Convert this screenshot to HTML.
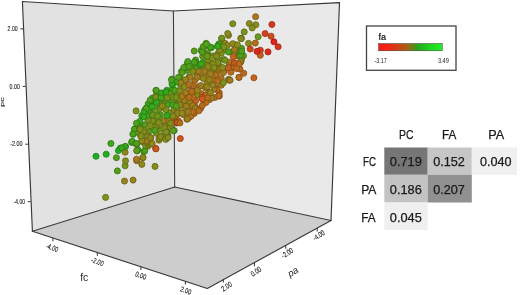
<!DOCTYPE html>
<html><head><meta charset="utf-8">
<style>
html,body{margin:0;padding:0;background:#fff;width:520px;height:295px;overflow:hidden}
svg{display:block;filter:blur(0.3px)}
text{font-family:"Liberation Sans",sans-serif}
</style></head><body>
<svg width="520" height="295" viewBox="0 0 520 295">
<defs>
<linearGradient id="lg" x1="0" x2="1" y1="0" y2="0">
<stop offset="0" stop-color="#f81a14"/>
<stop offset="0.14" stop-color="#f42214"/>
<stop offset="0.3" stop-color="#d04014"/>
<stop offset="0.45" stop-color="#a06414"/>
<stop offset="0.56" stop-color="#5a8a14"/>
<stop offset="0.62" stop-color="#22a820"/>
<stop offset="0.8" stop-color="#1cd41c"/>
<stop offset="1" stop-color="#22f022"/>
</linearGradient>
<filter id="bl" x="-5%" y="-5%" width="110%" height="110%"><feGaussianBlur stdDeviation="0.35"/></filter>
</defs>
<!-- walls -->
<polygon points="22.4,1.5 173.4,11 174.7,187 32.4,231.3" fill="#e2e2e2"/>
<polygon points="173.4,11 339.5,2.6 331,220.5 174.7,187" fill="#e9e9e9"/>
<polygon points="32.4,231.3 174.7,187 331,220.5 207.3,288.5" fill="#cdcdcd"/>
<g stroke="#3a3a3a" stroke-width="1.05" fill="none" stroke-linecap="round">
<line x1="173.4" y1="11" x2="174.7" y2="187"/>
<line x1="32.4" y1="231.3" x2="174.7" y2="187"/>
<line x1="174.7" y1="187" x2="331" y2="220.5"/>
</g>
<!-- points -->
<g filter="url(#bl)">
<circle cx="196.6" cy="73.4" r="3.05" fill="rgb(155, 128, 28)" stroke="rgb(108, 89, 19)" stroke-width="0.75"/>
<circle cx="201.4" cy="76.7" r="3.05" fill="rgb(154, 129, 28)" stroke="rgb(107, 90, 19)" stroke-width="0.75"/>
<circle cx="233.7" cy="65.4" r="3.05" fill="rgb(192, 101, 29)" stroke="rgb(134, 70, 20)" stroke-width="0.75"/>
<circle cx="170.5" cy="120.7" r="3.05" fill="rgb(141, 136, 28)" stroke="rgb(98, 95, 19)" stroke-width="0.75"/>
<circle cx="155.8" cy="96.1" r="3.05" fill="rgb(117, 148, 28)" stroke="rgb(81, 103, 19)" stroke-width="0.75"/>
<circle cx="213.2" cy="79.9" r="3.05" fill="rgb(164, 122, 28)" stroke="rgb(114, 85, 19)" stroke-width="0.75"/>
<circle cx="171.1" cy="96.5" r="3.05" fill="rgb(105, 153, 28)" stroke="rgb(73, 107, 19)" stroke-width="0.75"/>
<circle cx="163.1" cy="95.3" r="3.05" fill="rgb(52, 169, 28)" stroke="rgb(36, 118, 19)" stroke-width="0.75"/>
<circle cx="218.9" cy="65.2" r="3.05" fill="rgb(123, 146, 28)" stroke="rgb(86, 102, 19)" stroke-width="0.75"/>
<circle cx="183.1" cy="114.5" r="3.05" fill="rgb(159, 125, 28)" stroke="rgb(111, 87, 19)" stroke-width="0.75"/>
<circle cx="215.0" cy="97.4" r="3.05" fill="rgb(183, 109, 28)" stroke="rgb(128, 76, 19)" stroke-width="0.75"/>
<circle cx="189.5" cy="104.7" r="3.05" fill="rgb(174, 116, 28)" stroke="rgb(121, 81, 19)" stroke-width="0.75"/>
<circle cx="179.4" cy="105.2" r="3.05" fill="rgb(145, 134, 28)" stroke="rgb(101, 93, 19)" stroke-width="0.75"/>
<circle cx="141.8" cy="115.7" r="3.05" fill="rgb(52, 169, 28)" stroke="rgb(36, 118, 19)" stroke-width="0.75"/>
<circle cx="202.7" cy="62.6" r="3.05" fill="rgb(56, 168, 28)" stroke="rgb(39, 117, 19)" stroke-width="0.75"/>
<circle cx="177.5" cy="94.5" r="3.05" fill="rgb(116, 148, 28)" stroke="rgb(81, 103, 19)" stroke-width="0.75"/>
<circle cx="194.3" cy="99.8" r="3.05" fill="rgb(190, 103, 29)" stroke="rgb(133, 72, 20)" stroke-width="0.75"/>
<circle cx="180.1" cy="76.9" r="3.05" fill="rgb(64, 165, 28)" stroke="rgb(44, 115, 19)" stroke-width="0.75"/>
<circle cx="137.9" cy="126.8" r="3.05" fill="rgb(73, 163, 28)" stroke="rgb(51, 114, 19)" stroke-width="0.75"/>
<circle cx="188.6" cy="85.8" r="3.05" fill="rgb(175, 115, 28)" stroke="rgb(122, 80, 19)" stroke-width="0.75"/>
<circle cx="230.3" cy="52.0" r="3.05" fill="rgb(98, 155, 28)" stroke="rgb(68, 108, 19)" stroke-width="0.75"/>
<circle cx="154.2" cy="116.1" r="3.05" fill="rgb(110, 150, 28)" stroke="rgb(77, 105, 19)" stroke-width="0.75"/>
<circle cx="164.8" cy="107.7" r="3.05" fill="rgb(101, 154, 28)" stroke="rgb(70, 107, 19)" stroke-width="0.75"/>
<circle cx="221.3" cy="85.2" r="3.05" fill="rgb(159, 125, 28)" stroke="rgb(111, 87, 19)" stroke-width="0.75"/>
<circle cx="218.4" cy="52.9" r="3.05" fill="rgb(122, 146, 28)" stroke="rgb(85, 102, 19)" stroke-width="0.75"/>
<circle cx="151.8" cy="121.8" r="3.05" fill="rgb(120, 147, 28)" stroke="rgb(84, 102, 19)" stroke-width="0.75"/>
<circle cx="150.1" cy="130.6" r="3.05" fill="rgb(97, 156, 28)" stroke="rgb(67, 109, 19)" stroke-width="0.75"/>
<circle cx="192.7" cy="90.8" r="3.05" fill="rgb(180, 111, 28)" stroke="rgb(125, 77, 19)" stroke-width="0.75"/>
<circle cx="172.5" cy="89.4" r="3.05" fill="rgb(62, 166, 28)" stroke="rgb(43, 116, 19)" stroke-width="0.75"/>
<circle cx="205.4" cy="88.1" r="3.05" fill="rgb(160, 125, 28)" stroke="rgb(112, 87, 19)" stroke-width="0.75"/>
<circle cx="152.8" cy="110.2" r="3.05" fill="rgb(80, 161, 28)" stroke="rgb(56, 112, 19)" stroke-width="0.75"/>
<circle cx="180.8" cy="86.2" r="3.05" fill="rgb(118, 148, 28)" stroke="rgb(82, 103, 19)" stroke-width="0.75"/>
<circle cx="229.2" cy="62.2" r="3.05" fill="rgb(173, 116, 28)" stroke="rgb(121, 81, 19)" stroke-width="0.75"/>
<circle cx="200.6" cy="108.5" r="3.05" fill="rgb(183, 109, 28)" stroke="rgb(128, 76, 19)" stroke-width="0.75"/>
<circle cx="143.3" cy="133.5" r="3.05" fill="rgb(119, 147, 28)" stroke="rgb(83, 102, 19)" stroke-width="0.75"/>
<circle cx="144.6" cy="124.9" r="3.05" fill="rgb(86, 159, 28)" stroke="rgb(60, 111, 19)" stroke-width="0.75"/>
<circle cx="187.2" cy="70.6" r="3.05" fill="rgb(71, 164, 28)" stroke="rgb(49, 114, 19)" stroke-width="0.75"/>
<circle cx="195.6" cy="60.0" r="3.05" fill="rgb(69, 164, 28)" stroke="rgb(48, 114, 19)" stroke-width="0.75"/>
<circle cx="219.3" cy="92.9" r="3.05" fill="rgb(183, 109, 28)" stroke="rgb(128, 76, 19)" stroke-width="0.75"/>
<circle cx="181.5" cy="71.5" r="3.05" fill="rgb(63, 166, 28)" stroke="rgb(44, 116, 19)" stroke-width="0.75"/>
<circle cx="212.7" cy="65.5" r="3.05" fill="rgb(141, 137, 28)" stroke="rgb(98, 95, 19)" stroke-width="0.75"/>
<circle cx="237.8" cy="55.9" r="3.05" fill="rgb(127, 144, 28)" stroke="rgb(88, 100, 19)" stroke-width="0.75"/>
<circle cx="161.6" cy="129.3" r="3.05" fill="rgb(115, 149, 28)" stroke="rgb(80, 104, 19)" stroke-width="0.75"/>
<circle cx="241.6" cy="48.4" r="3.05" fill="rgb(89, 158, 28)" stroke="rgb(62, 110, 19)" stroke-width="0.75"/>
<circle cx="169.2" cy="112.6" r="3.05" fill="rgb(105, 153, 28)" stroke="rgb(73, 107, 19)" stroke-width="0.75"/>
<circle cx="221.2" cy="78.3" r="3.05" fill="rgb(173, 116, 28)" stroke="rgb(121, 81, 19)" stroke-width="0.75"/>
<circle cx="195.1" cy="106.6" r="3.05" fill="rgb(171, 118, 28)" stroke="rgb(119, 82, 19)" stroke-width="0.75"/>
<circle cx="187.6" cy="92.9" r="3.05" fill="rgb(169, 119, 28)" stroke="rgb(118, 83, 19)" stroke-width="0.75"/>
<circle cx="213.5" cy="55.8" r="3.05" fill="rgb(122, 146, 28)" stroke="rgb(85, 102, 19)" stroke-width="0.75"/>
<circle cx="160.5" cy="114.8" r="3.05" fill="rgb(85, 159, 28)" stroke="rgb(59, 111, 19)" stroke-width="0.75"/>
<circle cx="156.3" cy="133.3" r="3.05" fill="rgb(115, 149, 28)" stroke="rgb(80, 104, 19)" stroke-width="0.75"/>
<circle cx="176.0" cy="121.3" r="3.05" fill="rgb(201, 93, 30)" stroke="rgb(140, 65, 21)" stroke-width="0.75"/>
<circle cx="240.8" cy="62.0" r="3.05" fill="rgb(137, 139, 28)" stroke="rgb(95, 97, 19)" stroke-width="0.75"/>
<circle cx="204.8" cy="69.4" r="3.05" fill="rgb(144, 135, 28)" stroke="rgb(100, 94, 19)" stroke-width="0.75"/>
<circle cx="225.0" cy="43.3" r="3.05" fill="rgb(148, 133, 28)" stroke="rgb(103, 93, 19)" stroke-width="0.75"/>
<circle cx="211.4" cy="47.7" r="3.05" fill="rgb(78, 161, 28)" stroke="rgb(54, 112, 19)" stroke-width="0.75"/>
<circle cx="203.6" cy="100.1" r="3.05" fill="rgb(202, 89, 30)" stroke="rgb(141, 62, 21)" stroke-width="0.75"/>
<circle cx="193.2" cy="68.5" r="3.05" fill="rgb(76, 162, 28)" stroke="rgb(53, 113, 19)" stroke-width="0.75"/>
<circle cx="207.4" cy="76.4" r="3.05" fill="rgb(153, 129, 28)" stroke="rgb(107, 90, 19)" stroke-width="0.75"/>
<circle cx="176.4" cy="115.3" r="3.05" fill="rgb(172, 117, 28)" stroke="rgb(120, 81, 19)" stroke-width="0.75"/>
<circle cx="202.7" cy="56.4" r="3.05" fill="rgb(91, 158, 28)" stroke="rgb(63, 110, 19)" stroke-width="0.75"/>
<circle cx="159.4" cy="100.4" r="3.05" fill="rgb(100, 155, 28)" stroke="rgb(70, 108, 19)" stroke-width="0.75"/>
<circle cx="174.9" cy="109.0" r="3.05" fill="rgb(128, 144, 28)" stroke="rgb(89, 100, 19)" stroke-width="0.75"/>
<circle cx="234.2" cy="44.5" r="3.05" fill="rgb(132, 142, 28)" stroke="rgb(92, 99, 19)" stroke-width="0.75"/>
<circle cx="215.4" cy="87.3" r="3.05" fill="rgb(163, 123, 28)" stroke="rgb(114, 86, 19)" stroke-width="0.75"/>
<circle cx="159.2" cy="106.9" r="3.05" fill="rgb(101, 154, 28)" stroke="rgb(70, 107, 19)" stroke-width="0.75"/>
<circle cx="230.9" cy="72.2" r="3.05" fill="rgb(183, 109, 28)" stroke="rgb(128, 76, 19)" stroke-width="0.75"/>
<circle cx="184.3" cy="101.9" r="3.05" fill="rgb(160, 125, 28)" stroke="rgb(112, 87, 19)" stroke-width="0.75"/>
<circle cx="218.9" cy="43.9" r="3.05" fill="rgb(69, 164, 28)" stroke="rgb(48, 114, 19)" stroke-width="0.75"/>
<circle cx="223.8" cy="59.5" r="3.05" fill="rgb(107, 152, 28)" stroke="rgb(74, 106, 19)" stroke-width="0.75"/>
<circle cx="163.8" cy="120.8" r="3.05" fill="rgb(154, 129, 28)" stroke="rgb(107, 90, 19)" stroke-width="0.75"/>
<circle cx="224.3" cy="70.5" r="3.05" fill="rgb(164, 122, 28)" stroke="rgb(114, 85, 19)" stroke-width="0.75"/>
<circle cx="194.8" cy="80.5" r="3.05" fill="rgb(175, 114, 28)" stroke="rgb(122, 79, 19)" stroke-width="0.75"/>
<circle cx="170.1" cy="103.0" r="3.05" fill="rgb(79, 161, 28)" stroke="rgb(55, 112, 19)" stroke-width="0.75"/>
<circle cx="199.0" cy="86.6" r="3.05" fill="rgb(174, 116, 28)" stroke="rgb(121, 81, 19)" stroke-width="0.75"/>
<circle cx="217.3" cy="72.2" r="3.05" fill="rgb(155, 128, 28)" stroke="rgb(108, 89, 19)" stroke-width="0.75"/>
<circle cx="211.3" cy="71.9" r="3.05" fill="rgb(144, 135, 28)" stroke="rgb(100, 94, 19)" stroke-width="0.75"/>
<circle cx="207.2" cy="82.5" r="3.05" fill="rgb(142, 136, 28)" stroke="rgb(99, 95, 19)" stroke-width="0.75"/>
<circle cx="144.7" cy="110.3" r="3.05" fill="rgb(52, 169, 28)" stroke="rgb(36, 118, 19)" stroke-width="0.75"/>
<circle cx="224.1" cy="49.4" r="3.05" fill="rgb(133, 142, 28)" stroke="rgb(93, 99, 19)" stroke-width="0.75"/>
<circle cx="228.6" cy="79.4" r="3.05" fill="rgb(137, 139, 28)" stroke="rgb(95, 97, 19)" stroke-width="0.75"/>
<circle cx="187.1" cy="64.2" r="3.05" fill="rgb(52, 169, 28)" stroke="rgb(36, 118, 19)" stroke-width="0.75"/>
<circle cx="209.3" cy="92.6" r="3.05" fill="rgb(161, 124, 28)" stroke="rgb(112, 86, 19)" stroke-width="0.75"/>
<circle cx="189.4" cy="110.8" r="3.05" fill="rgb(167, 120, 28)" stroke="rgb(116, 84, 19)" stroke-width="0.75"/>
<circle cx="183.1" cy="96.3" r="3.05" fill="rgb(143, 135, 28)" stroke="rgb(100, 94, 19)" stroke-width="0.75"/>
<circle cx="239.9" cy="69.1" r="3.05" fill="rgb(193, 101, 29)" stroke="rgb(135, 70, 20)" stroke-width="0.75"/>
<circle cx="139.8" cy="121.4" r="3.05" fill="rgb(54, 169, 28)" stroke="rgb(37, 118, 19)" stroke-width="0.75"/>
<circle cx="243.5" cy="55.7" r="3.05" fill="rgb(116, 148, 28)" stroke="rgb(81, 103, 19)" stroke-width="0.75"/>
<circle cx="156.4" cy="126.5" r="3.05" fill="rgb(131, 142, 28)" stroke="rgb(91, 99, 19)" stroke-width="0.75"/>
<circle cx="153.8" cy="101.4" r="3.05" fill="rgb(52, 169, 28)" stroke="rgb(36, 118, 19)" stroke-width="0.75"/>
<circle cx="189.1" cy="77.0" r="3.05" fill="rgb(122, 146, 28)" stroke="rgb(85, 102, 19)" stroke-width="0.75"/>
<circle cx="147.2" cy="117.6" r="3.05" fill="rgb(92, 157, 28)" stroke="rgb(64, 109, 19)" stroke-width="0.75"/>
<circle cx="207.9" cy="60.3" r="3.05" fill="rgb(119, 147, 28)" stroke="rgb(83, 102, 19)" stroke-width="0.75"/>
<circle cx="206.2" cy="46.0" r="3.05" fill="rgb(75, 162, 28)" stroke="rgb(52, 113, 19)" stroke-width="0.75"/>
<circle cx="201.1" cy="93.8" r="3.05" fill="rgb(183, 109, 28)" stroke="rgb(128, 76, 19)" stroke-width="0.75"/>
<circle cx="148.2" cy="103.9" r="3.05" fill="rgb(52, 169, 28)" stroke="rgb(36, 118, 19)" stroke-width="0.75"/>
<circle cx="176.9" cy="82.1" r="3.05" fill="rgb(57, 168, 28)" stroke="rgb(39, 117, 19)" stroke-width="0.75"/>
<circle cx="207.6" cy="53.2" r="3.05" fill="rgb(94, 157, 28)" stroke="rgb(65, 109, 19)" stroke-width="0.75"/>
<circle cx="201.1" cy="50.4" r="3.05" fill="rgb(93, 157, 28)" stroke="rgb(65, 109, 19)" stroke-width="0.75"/>
<circle cx="166.9" cy="90.2" r="3.05" fill="rgb(52, 169, 28)" stroke="rgb(36, 118, 19)" stroke-width="0.75"/>
<circle cx="184.2" cy="81.5" r="3.05" fill="rgb(123, 145, 28)" stroke="rgb(86, 101, 19)" stroke-width="0.75"/>
<circle cx="188.7" cy="117.7" r="3.05" fill="rgb(161, 124, 28)" stroke="rgb(112, 86, 19)" stroke-width="0.75"/>
<circle cx="164.8" cy="101.5" r="3.05" fill="rgb(96, 156, 28)" stroke="rgb(67, 109, 19)" stroke-width="0.75"/>
<circle cx="166.6" cy="126.9" r="3.05" fill="rgb(135, 141, 28)" stroke="rgb(94, 98, 19)" stroke-width="0.75"/>
<circle cx="198.7" cy="67.0" r="3.05" fill="rgb(65, 165, 28)" stroke="rgb(45, 115, 19)" stroke-width="0.75"/>
<circle cx="209.4" cy="99.7" r="3.05" fill="rgb(177, 113, 28)" stroke="rgb(123, 79, 19)" stroke-width="0.75"/>
<circle cx="137.6" cy="132.4" r="3.05" fill="rgb(109, 151, 28)" stroke="rgb(76, 105, 19)" stroke-width="0.75"/>
<circle cx="177.2" cy="100.1" r="3.05" fill="rgb(122, 146, 28)" stroke="rgb(85, 102, 19)" stroke-width="0.75"/>
<circle cx="184.5" cy="107.9" r="3.05" fill="rgb(146, 133, 28)" stroke="rgb(102, 93, 19)" stroke-width="0.75"/>
<circle cx="157.6" cy="120.5" r="3.05" fill="rgb(114, 149, 28)" stroke="rgb(79, 104, 19)" stroke-width="0.75"/>
<circle cx="235.8" cy="50.4" r="3.05" fill="rgb(138, 138, 28)" stroke="rgb(96, 96, 19)" stroke-width="0.75"/>
<circle cx="194.3" cy="113.4" r="3.05" fill="rgb(183, 109, 28)" stroke="rgb(128, 76, 19)" stroke-width="0.75"/>
<circle cx="218.1" cy="59.3" r="3.05" fill="rgb(119, 147, 28)" stroke="rgb(83, 102, 19)" stroke-width="0.75"/>
<circle cx="148.3" cy="136.1" r="3.05" fill="rgb(137, 139, 28)" stroke="rgb(95, 97, 19)" stroke-width="0.75"/>
<circle cx="188.8" cy="98.7" r="3.05" fill="rgb(177, 113, 28)" stroke="rgb(123, 79, 19)" stroke-width="0.75"/>
<circle cx="140.3" cy="127.5" r="3.05" fill="rgb(56, 168, 28)" stroke="rgb(39, 117, 19)" stroke-width="0.75"/>
<circle cx="142.0" cy="141.1" r="3.05" fill="rgb(127, 144, 28)" stroke="rgb(88, 100, 19)" stroke-width="0.75"/>
<circle cx="221.4" cy="53.2" r="3.05" fill="rgb(130, 143, 28)" stroke="rgb(91, 100, 19)" stroke-width="0.75"/>
<circle cx="210.4" cy="47.2" r="3.05" fill="rgb(79, 161, 28)" stroke="rgb(55, 112, 19)" stroke-width="0.75"/>
<circle cx="177.8" cy="99.0" r="3.05" fill="rgb(129, 143, 28)" stroke="rgb(90, 100, 19)" stroke-width="0.75"/>
<circle cx="132.4" cy="142.0" r="3.05" fill="rgb(52, 169, 28)" stroke="rgb(36, 118, 19)" stroke-width="0.75"/>
<circle cx="228.5" cy="66.9" r="3.05" fill="rgb(149, 132, 28)" stroke="rgb(104, 92, 19)" stroke-width="0.75"/>
<circle cx="162.0" cy="137.1" r="3.05" fill="rgb(137, 139, 28)" stroke="rgb(95, 97, 19)" stroke-width="0.75"/>
<circle cx="174.9" cy="90.3" r="3.05" fill="rgb(80, 161, 28)" stroke="rgb(56, 112, 19)" stroke-width="0.75"/>
<circle cx="147.8" cy="146.2" r="3.05" fill="rgb(129, 143, 28)" stroke="rgb(90, 100, 19)" stroke-width="0.75"/>
<circle cx="278.1" cy="46.8" r="3.05" fill="rgb(216, 50, 30)" stroke="rgb(151, 35, 21)" stroke-width="0.75"/>
<circle cx="234.2" cy="67.2" r="3.05" fill="rgb(190, 103, 29)" stroke="rgb(133, 72, 20)" stroke-width="0.75"/>
<circle cx="194.8" cy="62.0" r="3.05" fill="rgb(70, 164, 28)" stroke="rgb(49, 114, 19)" stroke-width="0.75"/>
<circle cx="125.1" cy="165.8" r="3.05" fill="rgb(114, 149, 28)" stroke="rgb(79, 104, 19)" stroke-width="0.75"/>
<circle cx="244.2" cy="31.9" r="3.05" fill="rgb(124, 145, 28)" stroke="rgb(86, 101, 19)" stroke-width="0.75"/>
<circle cx="143.8" cy="151.6" r="3.05" fill="rgb(54, 169, 28)" stroke="rgb(37, 118, 19)" stroke-width="0.75"/>
<circle cx="228.5" cy="35.4" r="3.05" fill="rgb(145, 134, 28)" stroke="rgb(101, 93, 19)" stroke-width="0.75"/>
<circle cx="131.6" cy="142.4" r="3.05" fill="rgb(70, 164, 28)" stroke="rgb(49, 114, 19)" stroke-width="0.75"/>
<circle cx="239.0" cy="77.4" r="3.05" fill="rgb(183, 109, 28)" stroke="rgb(128, 76, 19)" stroke-width="0.75"/>
<circle cx="184.5" cy="100.2" r="3.05" fill="rgb(151, 131, 28)" stroke="rgb(105, 91, 19)" stroke-width="0.75"/>
<circle cx="148.1" cy="110.8" r="3.05" fill="rgb(52, 169, 28)" stroke="rgb(36, 118, 19)" stroke-width="0.75"/>
<circle cx="152.8" cy="120.9" r="3.05" fill="rgb(125, 145, 28)" stroke="rgb(87, 101, 19)" stroke-width="0.75"/>
<circle cx="186.3" cy="106.1" r="3.05" fill="rgb(157, 126, 28)" stroke="rgb(109, 88, 19)" stroke-width="0.75"/>
<circle cx="159.0" cy="140.2" r="3.05" fill="rgb(139, 138, 28)" stroke="rgb(97, 96, 19)" stroke-width="0.75"/>
<circle cx="161.5" cy="136.1" r="3.05" fill="rgb(146, 134, 28)" stroke="rgb(102, 93, 19)" stroke-width="0.75"/>
<circle cx="234.4" cy="49.7" r="3.05" fill="rgb(164, 122, 28)" stroke="rgb(114, 85, 19)" stroke-width="0.75"/>
<circle cx="152.4" cy="98.1" r="3.05" fill="rgb(52, 169, 28)" stroke="rgb(36, 118, 19)" stroke-width="0.75"/>
<circle cx="172.5" cy="84.9" r="3.05" fill="rgb(53, 169, 28)" stroke="rgb(37, 118, 19)" stroke-width="0.75"/>
<circle cx="134.8" cy="129.0" r="3.05" fill="rgb(72, 163, 28)" stroke="rgb(50, 114, 19)" stroke-width="0.75"/>
<circle cx="199.0" cy="64.5" r="3.05" fill="rgb(92, 157, 28)" stroke="rgb(64, 109, 19)" stroke-width="0.75"/>
<circle cx="189.8" cy="101.3" r="3.05" fill="rgb(154, 129, 28)" stroke="rgb(107, 90, 19)" stroke-width="0.75"/>
<circle cx="148.1" cy="120.3" r="3.05" fill="rgb(117, 148, 28)" stroke="rgb(81, 103, 19)" stroke-width="0.75"/>
<circle cx="106.2" cy="154.2" r="3.05" fill="rgb(32, 177, 29)" stroke="rgb(22, 123, 20)" stroke-width="0.75"/>
<circle cx="151.0" cy="100.7" r="3.05" fill="rgb(52, 169, 28)" stroke="rgb(36, 118, 19)" stroke-width="0.75"/>
<circle cx="136.9" cy="144.1" r="3.05" fill="rgb(136, 140, 28)" stroke="rgb(95, 98, 19)" stroke-width="0.75"/>
<circle cx="187.8" cy="61.5" r="3.05" fill="rgb(74, 163, 28)" stroke="rgb(51, 114, 19)" stroke-width="0.75"/>
<circle cx="125.1" cy="152.2" r="3.05" fill="rgb(143, 135, 28)" stroke="rgb(100, 94, 19)" stroke-width="0.75"/>
<circle cx="217.6" cy="80.8" r="3.05" fill="rgb(186, 106, 29)" stroke="rgb(130, 74, 20)" stroke-width="0.75"/>
<circle cx="117.4" cy="170.9" r="3.05" fill="rgb(78, 161, 28)" stroke="rgb(54, 112, 19)" stroke-width="0.75"/>
<circle cx="155.6" cy="148.4" r="3.05" fill="rgb(194, 100, 29)" stroke="rgb(135, 70, 20)" stroke-width="0.75"/>
<circle cx="166.4" cy="92.0" r="3.05" fill="rgb(52, 169, 28)" stroke="rgb(36, 118, 19)" stroke-width="0.75"/>
<circle cx="116.4" cy="157.7" r="3.05" fill="rgb(83, 160, 28)" stroke="rgb(58, 112, 19)" stroke-width="0.75"/>
<circle cx="170.2" cy="93.9" r="3.05" fill="rgb(96, 156, 28)" stroke="rgb(67, 109, 19)" stroke-width="0.75"/>
<circle cx="167.7" cy="104.9" r="3.05" fill="rgb(69, 164, 28)" stroke="rgb(48, 114, 19)" stroke-width="0.75"/>
<circle cx="132.2" cy="141.4" r="3.05" fill="rgb(63, 166, 28)" stroke="rgb(44, 116, 19)" stroke-width="0.75"/>
<circle cx="205.9" cy="102.5" r="3.05" fill="rgb(183, 109, 28)" stroke="rgb(128, 76, 19)" stroke-width="0.75"/>
<circle cx="159.9" cy="108.5" r="3.05" fill="rgb(107, 152, 28)" stroke="rgb(74, 106, 19)" stroke-width="0.75"/>
<circle cx="203.6" cy="46.7" r="3.05" fill="rgb(62, 166, 28)" stroke="rgb(43, 116, 19)" stroke-width="0.75"/>
<circle cx="168.3" cy="120.3" r="3.05" fill="rgb(166, 121, 28)" stroke="rgb(116, 84, 19)" stroke-width="0.75"/>
<circle cx="150.8" cy="137.9" r="3.05" fill="rgb(150, 131, 28)" stroke="rgb(105, 91, 19)" stroke-width="0.75"/>
<circle cx="144.8" cy="150.9" r="3.05" fill="rgb(69, 164, 28)" stroke="rgb(48, 114, 19)" stroke-width="0.75"/>
<circle cx="217.0" cy="89.7" r="3.05" fill="rgb(183, 109, 28)" stroke="rgb(128, 76, 19)" stroke-width="0.75"/>
<circle cx="198.6" cy="71.3" r="3.05" fill="rgb(165, 122, 28)" stroke="rgb(115, 85, 19)" stroke-width="0.75"/>
<circle cx="146.1" cy="108.2" r="3.05" fill="rgb(52, 169, 28)" stroke="rgb(36, 118, 19)" stroke-width="0.75"/>
<circle cx="133.0" cy="134.3" r="3.05" fill="rgb(76, 162, 28)" stroke="rgb(53, 113, 19)" stroke-width="0.75"/>
<circle cx="179.8" cy="104.9" r="3.05" fill="rgb(149, 132, 28)" stroke="rgb(104, 92, 19)" stroke-width="0.75"/>
<circle cx="241.6" cy="59.2" r="3.05" fill="rgb(136, 140, 28)" stroke="rgb(95, 98, 19)" stroke-width="0.75"/>
<circle cx="196.2" cy="66.6" r="3.05" fill="rgb(92, 157, 28)" stroke="rgb(64, 109, 19)" stroke-width="0.75"/>
<circle cx="172.0" cy="79.1" r="3.05" fill="rgb(85, 159, 28)" stroke="rgb(59, 111, 19)" stroke-width="0.75"/>
<circle cx="239.2" cy="56.2" r="3.05" fill="rgb(146, 134, 28)" stroke="rgb(102, 93, 19)" stroke-width="0.75"/>
<circle cx="150.2" cy="100.1" r="3.05" fill="rgb(78, 161, 28)" stroke="rgb(54, 112, 19)" stroke-width="0.75"/>
<circle cx="140.7" cy="136.1" r="3.05" fill="rgb(135, 141, 28)" stroke="rgb(94, 98, 19)" stroke-width="0.75"/>
<circle cx="248.5" cy="43.4" r="3.05" fill="rgb(139, 138, 28)" stroke="rgb(97, 96, 19)" stroke-width="0.75"/>
<circle cx="258.1" cy="36.8" r="3.05" fill="rgb(104, 153, 28)" stroke="rgb(72, 107, 19)" stroke-width="0.75"/>
<circle cx="202.3" cy="105.5" r="3.05" fill="rgb(186, 106, 29)" stroke="rgb(130, 74, 20)" stroke-width="0.75"/>
<circle cx="173.0" cy="97.2" r="3.05" fill="rgb(115, 149, 28)" stroke="rgb(80, 104, 19)" stroke-width="0.75"/>
<circle cx="192.8" cy="105.5" r="3.05" fill="rgb(157, 127, 28)" stroke="rgb(109, 88, 19)" stroke-width="0.75"/>
<circle cx="142.8" cy="157.7" r="3.05" fill="rgb(120, 147, 28)" stroke="rgb(84, 102, 19)" stroke-width="0.75"/>
<circle cx="120.4" cy="148.1" r="3.05" fill="rgb(30, 178, 30)" stroke="rgb(21, 124, 21)" stroke-width="0.75"/>
<circle cx="197.4" cy="77.3" r="3.05" fill="rgb(160, 125, 28)" stroke="rgb(112, 87, 19)" stroke-width="0.75"/>
<circle cx="125.5" cy="146.5" r="3.05" fill="rgb(64, 166, 28)" stroke="rgb(44, 116, 19)" stroke-width="0.75"/>
<circle cx="221.7" cy="38.7" r="3.05" fill="rgb(114, 149, 28)" stroke="rgb(79, 104, 19)" stroke-width="0.75"/>
<circle cx="145.4" cy="145.3" r="3.05" fill="rgb(114, 149, 28)" stroke="rgb(79, 104, 19)" stroke-width="0.75"/>
<circle cx="178.3" cy="120.9" r="3.05" fill="rgb(183, 109, 28)" stroke="rgb(128, 76, 19)" stroke-width="0.75"/>
<circle cx="161.9" cy="93.3" r="3.05" fill="rgb(52, 169, 28)" stroke="rgb(36, 118, 19)" stroke-width="0.75"/>
<circle cx="178.6" cy="99.0" r="3.05" fill="rgb(135, 140, 28)" stroke="rgb(94, 98, 19)" stroke-width="0.75"/>
<circle cx="159.1" cy="138.5" r="3.05" fill="rgb(136, 140, 28)" stroke="rgb(95, 98, 19)" stroke-width="0.75"/>
<circle cx="141.8" cy="141.4" r="3.05" fill="rgb(118, 148, 28)" stroke="rgb(82, 103, 19)" stroke-width="0.75"/>
<circle cx="211.9" cy="58.0" r="3.05" fill="rgb(133, 142, 28)" stroke="rgb(93, 99, 19)" stroke-width="0.75"/>
<circle cx="174.2" cy="109.7" r="3.05" fill="rgb(140, 137, 28)" stroke="rgb(98, 95, 19)" stroke-width="0.75"/>
<circle cx="195.8" cy="100.7" r="3.05" fill="rgb(194, 100, 29)" stroke="rgb(135, 70, 20)" stroke-width="0.75"/>
<circle cx="185.6" cy="79.7" r="3.05" fill="rgb(154, 129, 28)" stroke="rgb(107, 90, 19)" stroke-width="0.75"/>
<circle cx="200.9" cy="85.6" r="3.05" fill="rgb(158, 126, 28)" stroke="rgb(110, 88, 19)" stroke-width="0.75"/>
<circle cx="215.4" cy="68.7" r="3.05" fill="rgb(125, 145, 28)" stroke="rgb(87, 101, 19)" stroke-width="0.75"/>
<circle cx="173.0" cy="116.2" r="3.05" fill="rgb(138, 139, 28)" stroke="rgb(96, 97, 19)" stroke-width="0.75"/>
<circle cx="190.9" cy="66.9" r="3.05" fill="rgb(74, 163, 28)" stroke="rgb(51, 114, 19)" stroke-width="0.75"/>
<circle cx="172.0" cy="83.8" r="3.05" fill="rgb(52, 169, 28)" stroke="rgb(36, 118, 19)" stroke-width="0.75"/>
<circle cx="227.3" cy="45.5" r="3.05" fill="rgb(146, 134, 28)" stroke="rgb(102, 93, 19)" stroke-width="0.75"/>
<circle cx="152.6" cy="127.8" r="3.05" fill="rgb(112, 150, 28)" stroke="rgb(78, 105, 19)" stroke-width="0.75"/>
<circle cx="163.5" cy="120.9" r="3.05" fill="rgb(147, 133, 28)" stroke="rgb(102, 93, 19)" stroke-width="0.75"/>
<circle cx="221.7" cy="38.2" r="3.05" fill="rgb(115, 149, 28)" stroke="rgb(80, 104, 19)" stroke-width="0.75"/>
<circle cx="148.9" cy="144.5" r="3.05" fill="rgb(146, 134, 28)" stroke="rgb(102, 93, 19)" stroke-width="0.75"/>
<circle cx="219.6" cy="50.2" r="3.05" fill="rgb(135, 140, 28)" stroke="rgb(94, 98, 19)" stroke-width="0.75"/>
<circle cx="241.0" cy="51.4" r="3.05" fill="rgb(78, 161, 28)" stroke="rgb(54, 112, 19)" stroke-width="0.75"/>
<circle cx="155.2" cy="110.8" r="3.05" fill="rgb(111, 150, 28)" stroke="rgb(77, 105, 19)" stroke-width="0.75"/>
<circle cx="146.9" cy="142.4" r="3.05" fill="rgb(122, 146, 28)" stroke="rgb(85, 102, 19)" stroke-width="0.75"/>
<circle cx="157.1" cy="96.9" r="3.05" fill="rgb(118, 147, 28)" stroke="rgb(82, 102, 19)" stroke-width="0.75"/>
<circle cx="155.0" cy="166.4" r="3.05" fill="rgb(137, 140, 28)" stroke="rgb(95, 98, 19)" stroke-width="0.75"/>
<circle cx="147.1" cy="136.8" r="3.05" fill="rgb(126, 145, 28)" stroke="rgb(88, 101, 19)" stroke-width="0.75"/>
<circle cx="165.9" cy="109.7" r="3.05" fill="rgb(125, 145, 28)" stroke="rgb(87, 101, 19)" stroke-width="0.75"/>
<circle cx="228.3" cy="67.8" r="3.05" fill="rgb(196, 98, 29)" stroke="rgb(137, 68, 20)" stroke-width="0.75"/>
<circle cx="243.7" cy="73.3" r="3.05" fill="rgb(186, 106, 29)" stroke="rgb(130, 74, 20)" stroke-width="0.75"/>
<circle cx="155.8" cy="97.2" r="3.05" fill="rgb(120, 147, 28)" stroke="rgb(84, 102, 19)" stroke-width="0.75"/>
<circle cx="176.3" cy="122.9" r="3.05" fill="rgb(182, 109, 28)" stroke="rgb(127, 76, 19)" stroke-width="0.75"/>
<circle cx="240.8" cy="55.3" r="3.05" fill="rgb(75, 162, 28)" stroke="rgb(52, 113, 19)" stroke-width="0.75"/>
<circle cx="164.7" cy="126.3" r="3.05" fill="rgb(145, 134, 28)" stroke="rgb(101, 93, 19)" stroke-width="0.75"/>
<circle cx="134.4" cy="129.2" r="3.05" fill="rgb(70, 164, 28)" stroke="rgb(49, 114, 19)" stroke-width="0.75"/>
<circle cx="146.3" cy="108.5" r="3.05" fill="rgb(80, 161, 28)" stroke="rgb(56, 112, 19)" stroke-width="0.75"/>
<circle cx="124.5" cy="181.1" r="3.05" fill="rgb(149, 132, 28)" stroke="rgb(104, 92, 19)" stroke-width="0.75"/>
<circle cx="211.6" cy="98.1" r="3.05" fill="rgb(155, 128, 28)" stroke="rgb(108, 89, 19)" stroke-width="0.75"/>
<circle cx="173.0" cy="104.9" r="3.05" fill="rgb(73, 163, 28)" stroke="rgb(51, 114, 19)" stroke-width="0.75"/>
<circle cx="160.7" cy="136.8" r="3.05" fill="rgb(140, 137, 28)" stroke="rgb(98, 95, 19)" stroke-width="0.75"/>
<circle cx="133.1" cy="180.1" r="3.05" fill="rgb(150, 131, 28)" stroke="rgb(105, 91, 19)" stroke-width="0.75"/>
<circle cx="255.6" cy="16.7" r="3.05" fill="rgb(170, 119, 28)" stroke="rgb(118, 83, 19)" stroke-width="0.75"/>
<circle cx="137.1" cy="150.9" r="3.05" fill="rgb(117, 148, 28)" stroke="rgb(81, 103, 19)" stroke-width="0.75"/>
<circle cx="147.2" cy="140.8" r="3.05" fill="rgb(148, 132, 28)" stroke="rgb(103, 92, 19)" stroke-width="0.75"/>
<circle cx="118.4" cy="150.6" r="3.05" fill="rgb(30, 178, 30)" stroke="rgb(21, 124, 21)" stroke-width="0.75"/>
<circle cx="161.3" cy="93.0" r="3.05" fill="rgb(52, 169, 28)" stroke="rgb(36, 118, 19)" stroke-width="0.75"/>
<circle cx="204.7" cy="96.0" r="3.05" fill="rgb(201, 91, 30)" stroke="rgb(140, 63, 21)" stroke-width="0.75"/>
<circle cx="155.9" cy="90.4" r="3.05" fill="rgb(70, 164, 28)" stroke="rgb(49, 114, 19)" stroke-width="0.75"/>
<circle cx="165.6" cy="138.5" r="3.05" fill="rgb(138, 138, 28)" stroke="rgb(96, 96, 19)" stroke-width="0.75"/>
<circle cx="195.2" cy="108.5" r="3.05" fill="rgb(159, 125, 28)" stroke="rgb(111, 87, 19)" stroke-width="0.75"/>
<circle cx="260.3" cy="50.2" r="3.05" fill="rgb(213, 62, 30)" stroke="rgb(149, 43, 21)" stroke-width="0.75"/>
<circle cx="179.7" cy="90.9" r="3.05" fill="rgb(121, 146, 28)" stroke="rgb(84, 102, 19)" stroke-width="0.75"/>
<circle cx="228.5" cy="52.0" r="3.05" fill="rgb(69, 164, 28)" stroke="rgb(48, 114, 19)" stroke-width="0.75"/>
<circle cx="176.6" cy="122.7" r="3.05" fill="rgb(207, 76, 30)" stroke="rgb(144, 53, 21)" stroke-width="0.75"/>
<circle cx="233.3" cy="56.8" r="3.05" fill="rgb(195, 99, 29)" stroke="rgb(136, 69, 20)" stroke-width="0.75"/>
<circle cx="255.8" cy="24.8" r="3.05" fill="rgb(137, 139, 28)" stroke="rgb(95, 97, 19)" stroke-width="0.75"/>
<circle cx="174.2" cy="130.6" r="3.05" fill="rgb(79, 161, 28)" stroke="rgb(55, 112, 19)" stroke-width="0.75"/>
<circle cx="135.9" cy="143.8" r="3.05" fill="rgb(143, 136, 28)" stroke="rgb(100, 95, 19)" stroke-width="0.75"/>
<circle cx="170.6" cy="127.5" r="3.05" fill="rgb(133, 142, 28)" stroke="rgb(93, 99, 19)" stroke-width="0.75"/>
<circle cx="207.1" cy="65.1" r="3.05" fill="rgb(137, 139, 28)" stroke="rgb(95, 97, 19)" stroke-width="0.75"/>
<circle cx="210.5" cy="47.3" r="3.05" fill="rgb(67, 165, 28)" stroke="rgb(46, 115, 19)" stroke-width="0.75"/>
<circle cx="271.9" cy="24.5" r="3.05" fill="rgb(214, 56, 30)" stroke="rgb(149, 39, 21)" stroke-width="0.75"/>
<circle cx="155.2" cy="127.5" r="3.05" fill="rgb(135, 141, 28)" stroke="rgb(94, 98, 19)" stroke-width="0.75"/>
<circle cx="136.7" cy="160.8" r="3.05" fill="rgb(159, 125, 28)" stroke="rgb(111, 87, 19)" stroke-width="0.75"/>
<circle cx="232.7" cy="43.7" r="3.05" fill="rgb(143, 136, 28)" stroke="rgb(100, 95, 19)" stroke-width="0.75"/>
<circle cx="196.8" cy="95.1" r="3.05" fill="rgb(138, 139, 28)" stroke="rgb(96, 97, 19)" stroke-width="0.75"/>
<circle cx="191.0" cy="116.2" r="3.05" fill="rgb(178, 113, 28)" stroke="rgb(124, 79, 19)" stroke-width="0.75"/>
<circle cx="268.0" cy="51.9" r="3.05" fill="rgb(219, 41, 30)" stroke="rgb(153, 28, 21)" stroke-width="0.75"/>
<circle cx="255.3" cy="43.1" r="3.05" fill="rgb(178, 112, 28)" stroke="rgb(124, 78, 19)" stroke-width="0.75"/>
<circle cx="217.8" cy="62.7" r="3.05" fill="rgb(122, 146, 28)" stroke="rgb(85, 102, 19)" stroke-width="0.75"/>
<circle cx="214.0" cy="89.2" r="3.05" fill="rgb(166, 121, 28)" stroke="rgb(116, 84, 19)" stroke-width="0.75"/>
<circle cx="125.1" cy="146.5" r="3.05" fill="rgb(56, 168, 28)" stroke="rgb(39, 117, 19)" stroke-width="0.75"/>
<circle cx="203.3" cy="78.5" r="3.05" fill="rgb(149, 132, 28)" stroke="rgb(104, 92, 19)" stroke-width="0.75"/>
<circle cx="241.4" cy="38.4" r="3.05" fill="rgb(115, 149, 28)" stroke="rgb(80, 104, 19)" stroke-width="0.75"/>
<circle cx="234.4" cy="62.7" r="3.05" fill="rgb(204, 85, 30)" stroke="rgb(142, 59, 21)" stroke-width="0.75"/>
<circle cx="240.7" cy="61.5" r="3.05" fill="rgb(137, 139, 28)" stroke="rgb(95, 97, 19)" stroke-width="0.75"/>
<circle cx="168.0" cy="135.5" r="3.05" fill="rgb(135, 141, 28)" stroke="rgb(94, 98, 19)" stroke-width="0.75"/>
<circle cx="147.1" cy="141.1" r="3.05" fill="rgb(159, 126, 28)" stroke="rgb(111, 88, 19)" stroke-width="0.75"/>
<circle cx="240.9" cy="38.2" r="3.05" fill="rgb(143, 136, 28)" stroke="rgb(100, 95, 19)" stroke-width="0.75"/>
<circle cx="151.4" cy="143.8" r="3.05" fill="rgb(130, 143, 28)" stroke="rgb(91, 100, 19)" stroke-width="0.75"/>
<circle cx="239.2" cy="63.9" r="3.05" fill="rgb(183, 109, 28)" stroke="rgb(128, 76, 19)" stroke-width="0.75"/>
<circle cx="144.3" cy="130.2" r="3.05" fill="rgb(130, 143, 28)" stroke="rgb(91, 100, 19)" stroke-width="0.75"/>
<circle cx="223.8" cy="46.7" r="3.05" fill="rgb(125, 145, 28)" stroke="rgb(87, 101, 19)" stroke-width="0.75"/>
<circle cx="146.9" cy="115.6" r="3.05" fill="rgb(73, 163, 28)" stroke="rgb(51, 114, 19)" stroke-width="0.75"/>
<circle cx="208.1" cy="66.6" r="3.05" fill="rgb(138, 139, 28)" stroke="rgb(96, 97, 19)" stroke-width="0.75"/>
<circle cx="206.1" cy="43.3" r="3.05" fill="rgb(84, 160, 28)" stroke="rgb(58, 112, 19)" stroke-width="0.75"/>
<circle cx="154.9" cy="130.2" r="3.05" fill="rgb(87, 159, 28)" stroke="rgb(60, 111, 19)" stroke-width="0.75"/>
<circle cx="223.5" cy="82.6" r="3.05" fill="rgb(122, 146, 28)" stroke="rgb(85, 102, 19)" stroke-width="0.75"/>
<circle cx="216.6" cy="56.2" r="3.05" fill="rgb(127, 144, 28)" stroke="rgb(88, 100, 19)" stroke-width="0.75"/>
<circle cx="96.0" cy="156.3" r="3.05" fill="rgb(30, 178, 30)" stroke="rgb(21, 124, 21)" stroke-width="0.75"/>
<circle cx="202.7" cy="51.8" r="3.05" fill="rgb(79, 161, 28)" stroke="rgb(55, 112, 19)" stroke-width="0.75"/>
<circle cx="182.1" cy="96.3" r="3.05" fill="rgb(171, 118, 28)" stroke="rgb(119, 82, 19)" stroke-width="0.75"/>
<circle cx="163.1" cy="98.7" r="3.05" fill="rgb(102, 154, 28)" stroke="rgb(71, 107, 19)" stroke-width="0.75"/>
<circle cx="203.2" cy="46.7" r="3.05" fill="rgb(84, 159, 28)" stroke="rgb(58, 111, 19)" stroke-width="0.75"/>
<circle cx="253.9" cy="77.8" r="3.05" fill="rgb(199, 96, 29)" stroke="rgb(139, 67, 20)" stroke-width="0.75"/>
<circle cx="136.7" cy="143.5" r="3.05" fill="rgb(76, 162, 28)" stroke="rgb(53, 113, 19)" stroke-width="0.75"/>
<circle cx="207.0" cy="55.2" r="3.05" fill="rgb(87, 159, 28)" stroke="rgb(60, 111, 19)" stroke-width="0.75"/>
<circle cx="178.0" cy="110.8" r="3.05" fill="rgb(148, 132, 28)" stroke="rgb(103, 92, 19)" stroke-width="0.75"/>
<circle cx="200.2" cy="64.9" r="3.05" fill="rgb(65, 165, 28)" stroke="rgb(45, 115, 19)" stroke-width="0.75"/>
<circle cx="203.6" cy="53.2" r="3.05" fill="rgb(93, 157, 28)" stroke="rgb(65, 109, 19)" stroke-width="0.75"/>
<circle cx="223.5" cy="72.5" r="3.05" fill="rgb(168, 120, 28)" stroke="rgb(117, 84, 19)" stroke-width="0.75"/>
<circle cx="176.1" cy="97.5" r="3.05" fill="rgb(118, 147, 28)" stroke="rgb(82, 102, 19)" stroke-width="0.75"/>
<circle cx="260.3" cy="55.3" r="3.05" fill="rgb(198, 97, 29)" stroke="rgb(138, 67, 20)" stroke-width="0.75"/>
<circle cx="177.8" cy="113.2" r="3.05" fill="rgb(143, 136, 28)" stroke="rgb(100, 95, 19)" stroke-width="0.75"/>
<circle cx="192.8" cy="71.3" r="3.05" fill="rgb(135, 140, 28)" stroke="rgb(94, 98, 19)" stroke-width="0.75"/>
<circle cx="212.8" cy="85.0" r="3.05" fill="rgb(146, 133, 28)" stroke="rgb(102, 93, 19)" stroke-width="0.75"/>
<circle cx="180.3" cy="138.6" r="3.05" fill="rgb(204, 84, 30)" stroke="rgb(142, 58, 21)" stroke-width="0.75"/>
<circle cx="161.1" cy="97.8" r="3.05" fill="rgb(69, 164, 28)" stroke="rgb(48, 114, 19)" stroke-width="0.75"/>
<circle cx="136.4" cy="123.3" r="3.05" fill="rgb(74, 162, 28)" stroke="rgb(51, 113, 19)" stroke-width="0.75"/>
<circle cx="156.4" cy="102.5" r="3.05" fill="rgb(52, 169, 28)" stroke="rgb(36, 118, 19)" stroke-width="0.75"/>
<circle cx="271.0" cy="36.2" r="3.05" fill="rgb(206, 79, 30)" stroke="rgb(144, 55, 21)" stroke-width="0.75"/>
<circle cx="150.4" cy="125.7" r="3.05" fill="rgb(125, 145, 28)" stroke="rgb(87, 101, 19)" stroke-width="0.75"/>
<circle cx="192.8" cy="97.5" r="3.05" fill="rgb(184, 108, 28)" stroke="rgb(128, 75, 19)" stroke-width="0.75"/>
<circle cx="166.0" cy="92.1" r="3.05" fill="rgb(52, 169, 28)" stroke="rgb(36, 118, 19)" stroke-width="0.75"/>
<circle cx="249.3" cy="23.6" r="3.05" fill="rgb(140, 137, 28)" stroke="rgb(98, 95, 19)" stroke-width="0.75"/>
<circle cx="213.1" cy="63.9" r="3.05" fill="rgb(139, 138, 28)" stroke="rgb(97, 96, 19)" stroke-width="0.75"/>
<circle cx="220.5" cy="68.4" r="3.05" fill="rgb(179, 112, 28)" stroke="rgb(125, 78, 19)" stroke-width="0.75"/>
<circle cx="152.2" cy="143.6" r="3.05" fill="rgb(146, 134, 28)" stroke="rgb(102, 93, 19)" stroke-width="0.75"/>
<circle cx="257.0" cy="51.4" r="3.05" fill="rgb(218, 43, 30)" stroke="rgb(152, 30, 21)" stroke-width="0.75"/>
<circle cx="166.6" cy="134.3" r="3.05" fill="rgb(133, 142, 28)" stroke="rgb(93, 99, 19)" stroke-width="0.75"/>
<circle cx="198.8" cy="110.8" r="3.05" fill="rgb(181, 110, 28)" stroke="rgb(126, 77, 19)" stroke-width="0.75"/>
<circle cx="206.9" cy="86.8" r="3.05" fill="rgb(152, 130, 28)" stroke="rgb(106, 91, 19)" stroke-width="0.75"/>
<circle cx="133.0" cy="134.0" r="3.05" fill="rgb(67, 165, 28)" stroke="rgb(46, 115, 19)" stroke-width="0.75"/>
<circle cx="209.3" cy="79.7" r="3.05" fill="rgb(153, 129, 28)" stroke="rgb(107, 90, 19)" stroke-width="0.75"/>
<circle cx="205.7" cy="95.1" r="3.05" fill="rgb(185, 107, 28)" stroke="rgb(129, 74, 19)" stroke-width="0.75"/>
<circle cx="241.7" cy="51.1" r="3.05" fill="rgb(78, 161, 28)" stroke="rgb(54, 112, 19)" stroke-width="0.75"/>
<circle cx="180.9" cy="82.6" r="3.05" fill="rgb(153, 129, 28)" stroke="rgb(107, 90, 19)" stroke-width="0.75"/>
<circle cx="202.1" cy="97.5" r="3.05" fill="rgb(203, 86, 30)" stroke="rgb(142, 60, 21)" stroke-width="0.75"/>
<circle cx="182.1" cy="72.5" r="3.05" fill="rgb(95, 156, 28)" stroke="rgb(66, 109, 19)" stroke-width="0.75"/>
<circle cx="141.9" cy="140.8" r="3.05" fill="rgb(143, 136, 28)" stroke="rgb(100, 95, 19)" stroke-width="0.75"/>
<circle cx="156.3" cy="90.4" r="3.05" fill="rgb(82, 160, 28)" stroke="rgb(57, 112, 19)" stroke-width="0.75"/>
<circle cx="227.7" cy="33.5" r="3.05" fill="rgb(138, 139, 28)" stroke="rgb(96, 97, 19)" stroke-width="0.75"/>
<circle cx="143.7" cy="131.8" r="3.05" fill="rgb(139, 138, 28)" stroke="rgb(97, 96, 19)" stroke-width="0.75"/>
<circle cx="189.2" cy="97.5" r="3.05" fill="rgb(183, 109, 28)" stroke="rgb(128, 76, 19)" stroke-width="0.75"/>
<circle cx="206.5" cy="44.3" r="3.05" fill="rgb(84, 160, 28)" stroke="rgb(58, 112, 19)" stroke-width="0.75"/>
<circle cx="185.6" cy="67.8" r="3.05" fill="rgb(73, 163, 28)" stroke="rgb(51, 114, 19)" stroke-width="0.75"/>
<circle cx="173.3" cy="130.7" r="3.05" fill="rgb(91, 157, 28)" stroke="rgb(63, 109, 19)" stroke-width="0.75"/>
<circle cx="204.5" cy="71.3" r="3.05" fill="rgb(159, 125, 28)" stroke="rgb(111, 87, 19)" stroke-width="0.75"/>
<circle cx="152.8" cy="115.0" r="3.05" fill="rgb(106, 152, 28)" stroke="rgb(74, 106, 19)" stroke-width="0.75"/>
<circle cx="158.8" cy="122.7" r="3.05" fill="rgb(127, 144, 28)" stroke="rgb(88, 100, 19)" stroke-width="0.75"/>
<circle cx="229.4" cy="80.2" r="3.05" fill="rgb(152, 130, 28)" stroke="rgb(106, 91, 19)" stroke-width="0.75"/>
<circle cx="141.8" cy="164.4" r="3.05" fill="rgb(143, 136, 28)" stroke="rgb(100, 95, 19)" stroke-width="0.75"/>
<circle cx="214.0" cy="67.8" r="3.05" fill="rgb(133, 142, 28)" stroke="rgb(93, 99, 19)" stroke-width="0.75"/>
<circle cx="210.4" cy="92.7" r="3.05" fill="rgb(149, 132, 28)" stroke="rgb(104, 92, 19)" stroke-width="0.75"/>
<circle cx="197.4" cy="90.4" r="3.05" fill="rgb(154, 129, 28)" stroke="rgb(107, 90, 19)" stroke-width="0.75"/>
<circle cx="178.5" cy="77.3" r="3.05" fill="rgb(85, 159, 28)" stroke="rgb(59, 111, 19)" stroke-width="0.75"/>
<circle cx="183.8" cy="67.5" r="3.05" fill="rgb(86, 159, 28)" stroke="rgb(60, 111, 19)" stroke-width="0.75"/>
<circle cx="141.2" cy="136.0" r="3.05" fill="rgb(129, 143, 28)" stroke="rgb(90, 100, 19)" stroke-width="0.75"/>
<circle cx="105.6" cy="197.4" r="3.05" fill="rgb(129, 143, 28)" stroke="rgb(90, 100, 19)" stroke-width="0.75"/>
<circle cx="184.4" cy="86.8" r="3.05" fill="rgb(141, 137, 28)" stroke="rgb(98, 95, 19)" stroke-width="0.75"/>
<circle cx="241.0" cy="38.7" r="3.05" fill="rgb(136, 140, 28)" stroke="rgb(95, 98, 19)" stroke-width="0.75"/>
<circle cx="232.8" cy="23.8" r="3.05" fill="rgb(128, 143, 28)" stroke="rgb(89, 100, 19)" stroke-width="0.75"/>
<circle cx="137.8" cy="149.6" r="3.05" fill="rgb(54, 169, 28)" stroke="rgb(37, 118, 19)" stroke-width="0.75"/>
<circle cx="194.2" cy="51.0" r="3.05" fill="rgb(89, 158, 28)" stroke="rgb(62, 110, 19)" stroke-width="0.75"/>
<circle cx="192.8" cy="112.0" r="3.05" fill="rgb(179, 112, 28)" stroke="rgb(125, 78, 19)" stroke-width="0.75"/>
<circle cx="185.6" cy="92.7" r="3.05" fill="rgb(166, 121, 28)" stroke="rgb(116, 84, 19)" stroke-width="0.75"/>
<circle cx="189.2" cy="66.6" r="3.05" fill="rgb(80, 161, 28)" stroke="rgb(56, 112, 19)" stroke-width="0.75"/>
<circle cx="236.6" cy="68.6" r="3.05" fill="rgb(185, 107, 28)" stroke="rgb(129, 74, 19)" stroke-width="0.75"/>
<circle cx="188.1" cy="112.0" r="3.05" fill="rgb(160, 125, 28)" stroke="rgb(112, 87, 19)" stroke-width="0.75"/>
<circle cx="219.3" cy="96.1" r="3.05" fill="rgb(186, 106, 29)" stroke="rgb(130, 74, 20)" stroke-width="0.75"/>
<circle cx="165.8" cy="139.4" r="3.05" fill="rgb(133, 142, 28)" stroke="rgb(93, 99, 19)" stroke-width="0.75"/>
<circle cx="192.8" cy="85.6" r="3.05" fill="rgb(184, 107, 28)" stroke="rgb(128, 74, 19)" stroke-width="0.75"/>
<circle cx="143.9" cy="112.6" r="3.05" fill="rgb(52, 169, 28)" stroke="rgb(36, 118, 19)" stroke-width="0.75"/>
<circle cx="265.1" cy="33.6" r="3.05" fill="rgb(212, 65, 30)" stroke="rgb(148, 45, 21)" stroke-width="0.75"/>
<circle cx="143.1" cy="157.5" r="3.05" fill="rgb(143, 135, 28)" stroke="rgb(100, 94, 19)" stroke-width="0.75"/>
<circle cx="273.9" cy="41.8" r="3.05" fill="rgb(221, 32, 30)" stroke="rgb(154, 22, 21)" stroke-width="0.75"/>
<circle cx="202.2" cy="52.0" r="3.05" fill="rgb(81, 161, 28)" stroke="rgb(56, 112, 19)" stroke-width="0.75"/>
<circle cx="215.8" cy="74.9" r="3.05" fill="rgb(179, 111, 28)" stroke="rgb(125, 77, 19)" stroke-width="0.75"/>
<circle cx="207.1" cy="56.2" r="3.05" fill="rgb(109, 151, 28)" stroke="rgb(76, 105, 19)" stroke-width="0.75"/>
<circle cx="182.1" cy="113.2" r="3.05" fill="rgb(146, 134, 28)" stroke="rgb(102, 93, 19)" stroke-width="0.75"/>
<circle cx="237.4" cy="44.9" r="3.05" fill="rgb(135, 140, 28)" stroke="rgb(94, 98, 19)" stroke-width="0.75"/>
<circle cx="156.0" cy="148.9" r="3.05" fill="rgb(202, 90, 30)" stroke="rgb(141, 62, 21)" stroke-width="0.75"/>
<circle cx="177.4" cy="122.7" r="3.05" fill="rgb(202, 89, 30)" stroke="rgb(141, 62, 21)" stroke-width="0.75"/>
<circle cx="217.7" cy="45.9" r="3.05" fill="rgb(60, 167, 28)" stroke="rgb(42, 116, 19)" stroke-width="0.75"/>
<circle cx="125.5" cy="160.8" r="3.05" fill="rgb(129, 143, 28)" stroke="rgb(90, 100, 19)" stroke-width="0.75"/>
<circle cx="199.2" cy="64.5" r="3.05" fill="rgb(71, 163, 28)" stroke="rgb(49, 114, 19)" stroke-width="0.75"/>
<circle cx="139.5" cy="129.0" r="3.05" fill="rgb(107, 152, 28)" stroke="rgb(74, 106, 19)" stroke-width="0.75"/>
<circle cx="230.1" cy="80.2" r="3.05" fill="rgb(162, 124, 28)" stroke="rgb(113, 86, 19)" stroke-width="0.75"/>
<circle cx="191.6" cy="91.5" r="3.05" fill="rgb(178, 112, 28)" stroke="rgb(124, 78, 19)" stroke-width="0.75"/>
<circle cx="207.7" cy="97.8" r="3.05" fill="rgb(183, 109, 28)" stroke="rgb(128, 76, 19)" stroke-width="0.75"/>
<circle cx="110.9" cy="143.5" r="3.05" fill="rgb(59, 167, 28)" stroke="rgb(41, 116, 19)" stroke-width="0.75"/>
<circle cx="162.3" cy="106.1" r="3.05" fill="rgb(144, 135, 28)" stroke="rgb(100, 94, 19)" stroke-width="0.75"/>
<circle cx="150.5" cy="137.7" r="3.05" fill="rgb(140, 137, 28)" stroke="rgb(98, 95, 19)" stroke-width="0.75"/>
<circle cx="189.2" cy="84.4" r="3.05" fill="rgb(177, 113, 28)" stroke="rgb(123, 79, 19)" stroke-width="0.75"/>
<circle cx="194.9" cy="63.1" r="3.05" fill="rgb(70, 164, 28)" stroke="rgb(49, 114, 19)" stroke-width="0.75"/>
<circle cx="176.2" cy="106.1" r="3.05" fill="rgb(83, 160, 28)" stroke="rgb(58, 112, 19)" stroke-width="0.75"/>
<circle cx="166.8" cy="131.9" r="3.05" fill="rgb(130, 143, 28)" stroke="rgb(91, 100, 19)" stroke-width="0.75"/>
<circle cx="224.9" cy="60.3" r="3.05" fill="rgb(119, 147, 28)" stroke="rgb(83, 102, 19)" stroke-width="0.75"/>
<circle cx="202.3" cy="99.0" r="3.05" fill="rgb(201, 91, 30)" stroke="rgb(140, 63, 21)" stroke-width="0.75"/>
<circle cx="136.1" cy="110.9" r="3.05" fill="rgb(121, 146, 28)" stroke="rgb(84, 102, 19)" stroke-width="0.75"/>
<circle cx="222.6" cy="67.5" r="3.05" fill="rgb(130, 143, 28)" stroke="rgb(91, 100, 19)" stroke-width="0.75"/>
<circle cx="252.2" cy="27.9" r="3.05" fill="rgb(126, 145, 28)" stroke="rgb(88, 101, 19)" stroke-width="0.75"/>
<circle cx="201.2" cy="63.9" r="3.05" fill="rgb(57, 168, 28)" stroke="rgb(39, 117, 19)" stroke-width="0.75"/>
<circle cx="168.1" cy="137.6" r="3.05" fill="rgb(132, 142, 28)" stroke="rgb(92, 99, 19)" stroke-width="0.75"/>
<circle cx="218.8" cy="95.7" r="3.05" fill="rgb(183, 109, 28)" stroke="rgb(128, 76, 19)" stroke-width="0.75"/>
<circle cx="186.9" cy="119.2" r="3.05" fill="rgb(140, 137, 28)" stroke="rgb(98, 95, 19)" stroke-width="0.75"/>
<circle cx="210.4" cy="73.7" r="3.05" fill="rgb(155, 128, 28)" stroke="rgb(108, 89, 19)" stroke-width="0.75"/>
<circle cx="167.1" cy="97.8" r="3.05" fill="rgb(120, 147, 28)" stroke="rgb(84, 102, 19)" stroke-width="0.75"/>
<circle cx="140.3" cy="129.2" r="3.05" fill="rgb(131, 143, 28)" stroke="rgb(91, 100, 19)" stroke-width="0.75"/>
<circle cx="164.4" cy="127.8" r="3.05" fill="rgb(130, 143, 28)" stroke="rgb(91, 100, 19)" stroke-width="0.75"/>
<circle cx="194.4" cy="62.1" r="3.05" fill="rgb(75, 162, 28)" stroke="rgb(52, 113, 19)" stroke-width="0.75"/>
<circle cx="170.6" cy="123.3" r="3.05" fill="rgb(128, 144, 28)" stroke="rgb(89, 100, 19)" stroke-width="0.75"/>
<circle cx="171.5" cy="79.8" r="3.05" fill="rgb(76, 162, 28)" stroke="rgb(53, 113, 19)" stroke-width="0.75"/>
<circle cx="239.0" cy="77.3" r="3.05" fill="rgb(183, 109, 28)" stroke="rgb(128, 76, 19)" stroke-width="0.75"/>
<circle cx="136.7" cy="150.6" r="3.05" fill="rgb(95, 156, 28)" stroke="rgb(66, 109, 19)" stroke-width="0.75"/>
<circle cx="250.2" cy="49.0" r="3.05" fill="rgb(211, 68, 30)" stroke="rgb(147, 47, 21)" stroke-width="0.75"/>
<circle cx="121.7" cy="147.9" r="3.05" fill="rgb(58, 167, 28)" stroke="rgb(40, 116, 19)" stroke-width="0.75"/>
<circle cx="167.1" cy="115.6" r="3.05" fill="rgb(52, 169, 28)" stroke="rgb(36, 118, 19)" stroke-width="0.75"/>
<circle cx="190.4" cy="77.3" r="3.05" fill="rgb(159, 125, 28)" stroke="rgb(111, 87, 19)" stroke-width="0.75"/>
<circle cx="166.1" cy="132.1" r="3.05" fill="rgb(128, 144, 28)" stroke="rgb(89, 100, 19)" stroke-width="0.75"/>
<circle cx="136.5" cy="159.2" r="3.05" fill="rgb(165, 122, 28)" stroke="rgb(115, 85, 19)" stroke-width="0.75"/>
<circle cx="157.6" cy="116.2" r="3.05" fill="rgb(112, 150, 28)" stroke="rgb(78, 105, 19)" stroke-width="0.75"/>
<circle cx="152.2" cy="106.7" r="3.05" fill="rgb(52, 169, 28)" stroke="rgb(36, 118, 19)" stroke-width="0.75"/>
<circle cx="217.8" cy="46.3" r="3.05" fill="rgb(52, 169, 28)" stroke="rgb(36, 118, 19)" stroke-width="0.75"/>
<circle cx="179.9" cy="122.9" r="3.05" fill="rgb(183, 108, 28)" stroke="rgb(128, 75, 19)" stroke-width="0.75"/>
<circle cx="187.4" cy="118.9" r="3.05" fill="rgb(158, 126, 28)" stroke="rgb(110, 88, 19)" stroke-width="0.75"/>
<circle cx="143.9" cy="116.8" r="3.05" fill="rgb(52, 169, 28)" stroke="rgb(36, 118, 19)" stroke-width="0.75"/>
</g>
<g stroke="#383838" stroke-width="1.15" fill="none" stroke-linecap="round" stroke-linejoin="round">
<polyline points="32.4,231.3 22.4,1.5 173.4,11 339.5,2.6 331,220.5"/>
<polyline points="32.4,231.3 207.3,288.5 331,220.5"/>
</g>
<!-- left axis ticks -->
<g stroke="#333" stroke-width="1">
<line x1="20.3" y1="28.9" x2="23.3" y2="28.9"/>
<line x1="22.7" y1="86.4" x2="25.7" y2="86.4"/>
<line x1="25.3" y1="144.2" x2="28.3" y2="144.2"/>
<line x1="27.8" y1="201.7" x2="30.8" y2="201.7"/>
<!-- fc ticks -->
<line x1="52.9" y1="237.8" x2="52.9" y2="241.3"/>
<line x1="97.3" y1="252.4" x2="97.3" y2="255.9"/>
<line x1="140.9" y1="266.5" x2="140.9" y2="270"/>
<line x1="185.4" y1="281" x2="185.4" y2="284.5"/>
<!-- pa ticks -->
<line x1="223.3" y1="279" x2="223.3" y2="282.5"/>
<line x1="254.4" y1="262.5" x2="254.4" y2="266.3"/>
<line x1="285.8" y1="245.3" x2="285.8" y2="248.8"/>
<line x1="317.2" y1="228" x2="317.2" y2="231.5"/>
</g>
<g font-size="7.2" fill="#1a1a1a" stroke="#1a1a1a" stroke-width="0.12" text-anchor="end">
<text x="17.6" y="31" textLength="10" lengthAdjust="spacingAndGlyphs">2.00</text>
<text x="19.8" y="88.5" textLength="10.2" lengthAdjust="spacingAndGlyphs">0.00</text>
<text x="22.6" y="146.3" textLength="12.4" lengthAdjust="spacingAndGlyphs">-2.00</text>
<text x="24.9" y="203.8" textLength="11.2" lengthAdjust="spacingAndGlyphs">-4.00</text>
</g>
<g font-size="7.4" fill="#1a1a1a" stroke="#1a1a1a" stroke-width="0.12" text-anchor="middle">
<text transform="translate(52.2,247.6) rotate(20)" y="2.6" textLength="12.6" lengthAdjust="spacingAndGlyphs">-4.00</text>
<text transform="translate(97.6,261.6) rotate(20)" y="2.6" textLength="12.6" lengthAdjust="spacingAndGlyphs">-2.00</text>
<text transform="translate(141,275.4) rotate(20)" y="2.6" textLength="11.2" lengthAdjust="spacingAndGlyphs">0.00</text>
<text transform="translate(185.8,290.4) rotate(20)" y="2.6" textLength="11.2" lengthAdjust="spacingAndGlyphs">2.00</text>
<text transform="translate(226.6,286.4) rotate(-33)" y="2.6" textLength="11.2" lengthAdjust="spacingAndGlyphs">2.00</text>
<text transform="translate(255.9,271.4) rotate(-33)" y="2.6" textLength="11.2" lengthAdjust="spacingAndGlyphs">0.00</text>
<text transform="translate(287.2,253) rotate(-33)" y="2.6" textLength="12.6" lengthAdjust="spacingAndGlyphs">-2.00</text>
<text transform="translate(318.7,235.3) rotate(-33)" y="2.6" textLength="12.6" lengthAdjust="spacingAndGlyphs">-4.00</text>
</g>
<text transform="translate(3.9,102) rotate(-90) scale(1,0.7)" font-size="8.8" fill="#222" text-anchor="middle" stroke="#222" stroke-width="0.15">pc</text>
<text x="84.3" y="280.6" font-size="10.5" fill="#2a2a2a" text-anchor="middle">fc</text>
<text transform="translate(293.4,272.6) rotate(-30)" y="2.2" font-size="9.5" fill="#222" text-anchor="middle" font-style="italic">pa</text>
<!-- legend -->
<rect x="366.5" y="26" width="89.5" height="44.3" fill="#fff" stroke="#444" stroke-width="1.3"/>
<text x="378.5" y="39.6" font-size="9" fill="#111" stroke="#111" stroke-width="0.2">fa</text>
<rect x="378.7" y="43.6" width="63.5" height="7.2" fill="url(#lg)" stroke="#333" stroke-width="0.5"/>
<text x="374.4" y="62.7" font-size="6.6" fill="#1a1a1a" textLength="12.4" lengthAdjust="spacingAndGlyphs">-3.17</text>
<text x="437.9" y="62.7" font-size="6.6" fill="#1a1a1a" textLength="10.9" lengthAdjust="spacingAndGlyphs">3.49</text>
<!-- table -->
<rect x="384.3" y="147.5" width="43.4" height="27.3" fill="#767676"/>
<rect x="427.7" y="147.5" width="44.1" height="27.3" fill="#c6c6c6"/>
<rect x="471.8" y="147.5" width="45.2" height="27.3" fill="#f0f0f0"/>
<rect x="384.3" y="174.8" width="43.4" height="27.7" fill="#c3c3c3"/>
<rect x="427.7" y="174.8" width="44.1" height="27.7" fill="#909090"/>
<rect x="384.3" y="202.5" width="43.4" height="27.5" fill="#efefef"/>
<g font-size="12.2" fill="#1a1a1a" stroke="#1a1a1a" stroke-width="0.25">
<text x="399.1" y="139.2" textLength="14.5" lengthAdjust="spacingAndGlyphs">PC</text>
<text x="441.9" y="139.2" textLength="14.3" lengthAdjust="spacingAndGlyphs">FA</text>
<text x="488.3" y="139.2" textLength="15.9" lengthAdjust="spacingAndGlyphs">PA</text>
<text x="363.1" y="166" textLength="13.0" lengthAdjust="spacingAndGlyphs">FC</text>
<text x="361.2" y="194.3" textLength="15.2" lengthAdjust="spacingAndGlyphs">PA</text>
<text x="361.2" y="221.7" textLength="14.4" lengthAdjust="spacingAndGlyphs">FA</text>
<text x="389.8" y="166" textLength="32.0" lengthAdjust="spacingAndGlyphs">0.719</text>
<text x="433.2" y="166" textLength="31.7" lengthAdjust="spacingAndGlyphs">0.152</text>
<text x="480.0" y="166" textLength="31.6" lengthAdjust="spacingAndGlyphs">0.040</text>
<text x="389.8" y="194.3" textLength="32.0" lengthAdjust="spacingAndGlyphs">0.186</text>
<text x="433.2" y="194.3" textLength="31.7" lengthAdjust="spacingAndGlyphs">0.207</text>
<text x="389.8" y="221.7" textLength="32.0" lengthAdjust="spacingAndGlyphs">0.045</text>
</g>
</svg>
</body></html>
